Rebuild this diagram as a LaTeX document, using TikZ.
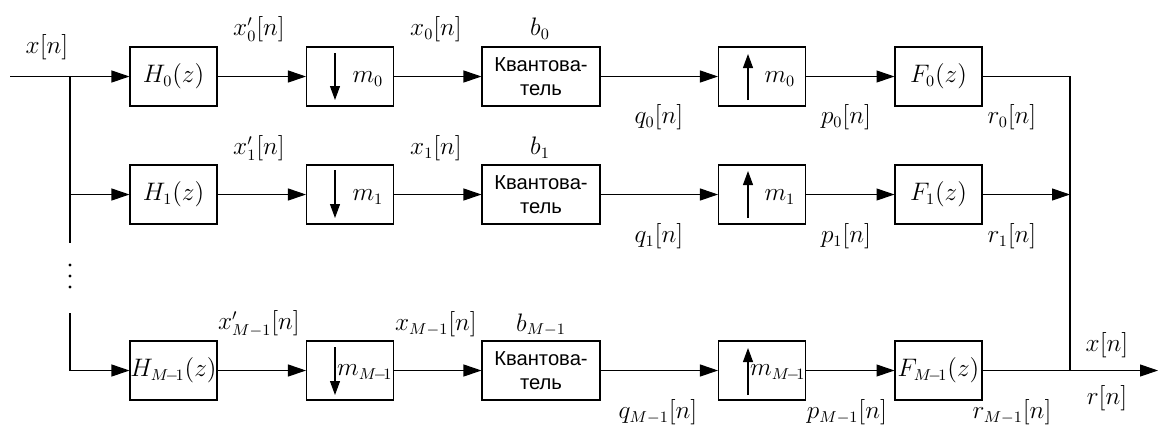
\documentclass[tikz,border=0pt]{standalone}
\usepackage{fontspec}
\newfontfamily\quantfont{Liberation Sans}
\usetikzlibrary{arrows.meta}
\newcommand{\Mm}{M{-}1}
\newcommand{\Mt}{M\!-\!1}
\begin{document}
\begin{tikzpicture}[x=0.02cm,y=-0.02cm,
  line width=0.6pt,
  blk/.style={draw,inner sep=0pt,minimum height=1.18cm},
  hbox/.style={blk,minimum width=1.74cm},
  qbox/.style={blk,minimum width=2.36cm,font=\quantfont\fontsize{11.5}{14}\selectfont,align=center},
  sig/.style={-{Triangle[length=0.36cm,width=0.24cm]}},
  inarr/.style={-{Triangle[length=0.28cm,width=0.2cm]}},
  lbl/.style={inner sep=0pt,font=\fontsize{13.5}{16}\selectfont},
  every node/.append style={font=\fontsize{13.5}{16}\selectfont}]
\useasboundingbox (0,0) rectangle (1165,427);

% row 0
\node[hbox] (H0) at (173.5,76.5) {$H_0(z)$};
\node[hbox] (D0) at (350,76.5) {};
\node[qbox] (Q0) at (541,76.5) {Квантова-\\тель};
\node[hbox] (U0) at (762,76.5) {};
\node[hbox] (F0) at (938.5,76.5) {$F_0(z)$};
% row 1
\node[hbox] (H1) at (173.5,194.5) {$H_1(z)$};
\node[hbox] (D1) at (350,194.5) {};
\node[qbox] (Q1) at (541,194.5) {Квантова-\\тель};
\node[hbox] (U1) at (762,194.5) {};
\node[hbox] (F1) at (938.5,194.5) {$F_1(z)$};
% row 2
\node[hbox] (H2) at (173.5,370.5) {$H_{\Mt}(z)$};
\node[hbox] (D2) at (350,370.5) {};
\node[qbox] (Q2) at (541,370.5) {Квантова-\\тель};
\node[hbox] (U2) at (762,370.5) {};
\node[hbox] (F2) at (938.5,370.5) {$F_{\Mt}(z)$};

% down/up sampler symbols
\draw[inarr] (335,53) -- (335,100);
\draw[inarr] (335,170) -- (335,218);
\draw[inarr] (335,347) -- (335,395);
\draw[inarr] (748,100) -- (748,54);
\draw[inarr] (748,218) -- (748,171);
\draw[inarr] (748,395) -- (748,348);
\node[lbl,anchor=west] (m0) at (352,79) {$m_0$};
\node[lbl,anchor=west] (m1) at (352,197) {$m_1$};
\node[lbl,anchor=east] (m2) at (393,373) {$m_{\Mt}$};
\node[lbl,anchor=west] (n0) at (764,79) {$m_0$};
\node[lbl,anchor=west] (n1) at (764,197) {$m_1$};
\node[lbl,anchor=east] (n2) at (806,373) {$m_{\Mt}$};

% input and branches
\coordinate (in) at (10,76.5);
\coordinate (b0) at (70,76.5);
\coordinate (b1) at (70,194.5);
\coordinate (b1e) at (70,243);
\coordinate (b2s) at (70,313);
\coordinate (b2) at (70,370.5);
\draw[sig] (in) -- (H0);
\draw (b0) -- (b1e);
\draw[sig] (b1) -- (H1);
\draw (b2s) -- (b2);
\draw[sig] (b2) -- (H2);
\foreach \yy in {265,276,287} \fill (70,\yy) circle (1.6);

% chains
\foreach \r in {0,1,2}{
  \draw[sig] (H\r) -- (D\r);
  \draw[sig] (D\r) -- (Q\r);
  \draw[sig] (Q\r) -- (U\r);
  \draw[sig] (U\r) -- (F\r);
}

% output summation
\coordinate (s0) at (1070,76.5);
\coordinate (s1) at (1070,194.5);
\coordinate (s2) at (1070,370.5);
\coordinate (out) at (1158,370.5);
\draw (F0.east) -- (s0) -- (s2);
\draw[sig] (F1.east) -- (s1);
\draw[sig] (F2.east) -- (out);

% labels
\node[lbl] (lx) at (47,47) {$x[n]$};
\node[lbl] (lxp0) at (259,29) {$x'_0[n]$};
\node[lbl] (lx0) at (436,29) {$x_0[n]$};
\node[lbl] (lb0) at (540,29) {$b_0$};
\node[lbl] (lq0) at (659,117) {$q_0[n]$};
\node[lbl] (lp0) at (846,117) {$p_0[n]$};
\node[lbl] (lr0) at (1012,117) {$r_0[n]$};

\node[lbl] (lxp1) at (259,148) {$x'_1[n]$};
\node[lbl] (lx1) at (436,148) {$x_1[n]$};
\node[lbl] (lb1) at (540,148) {$b_1$};
\node[lbl] (lq1) at (659,236) {$q_1[n]$};
\node[lbl] (lp1) at (846,236) {$p_1[n]$};
\node[lbl] (lr1) at (1012,236) {$r_1[n]$};

\node[lbl] (lxp2) at (259,324) {$x'_{\Mm}[n]$};
\node[lbl] (lx2) at (436,324) {$x_{\Mm}[n]$};
\node[lbl] (lb2) at (541,325) {$b_{\Mm}$};
\node[lbl] (lq2) at (658,412) {$q_{\Mm}[n]$};
\node[lbl] (lp2) at (847,412) {$p_{\Mm}[n]$};
\node[lbl] (lr2) at (1012,412) {$r_{\Mm}[n]$};

\node[lbl] (lxo) at (1107,345) {$x[n]$};
\node[lbl] (lro) at (1107,398) {$r[n]$};
\end{tikzpicture}
\end{document}
